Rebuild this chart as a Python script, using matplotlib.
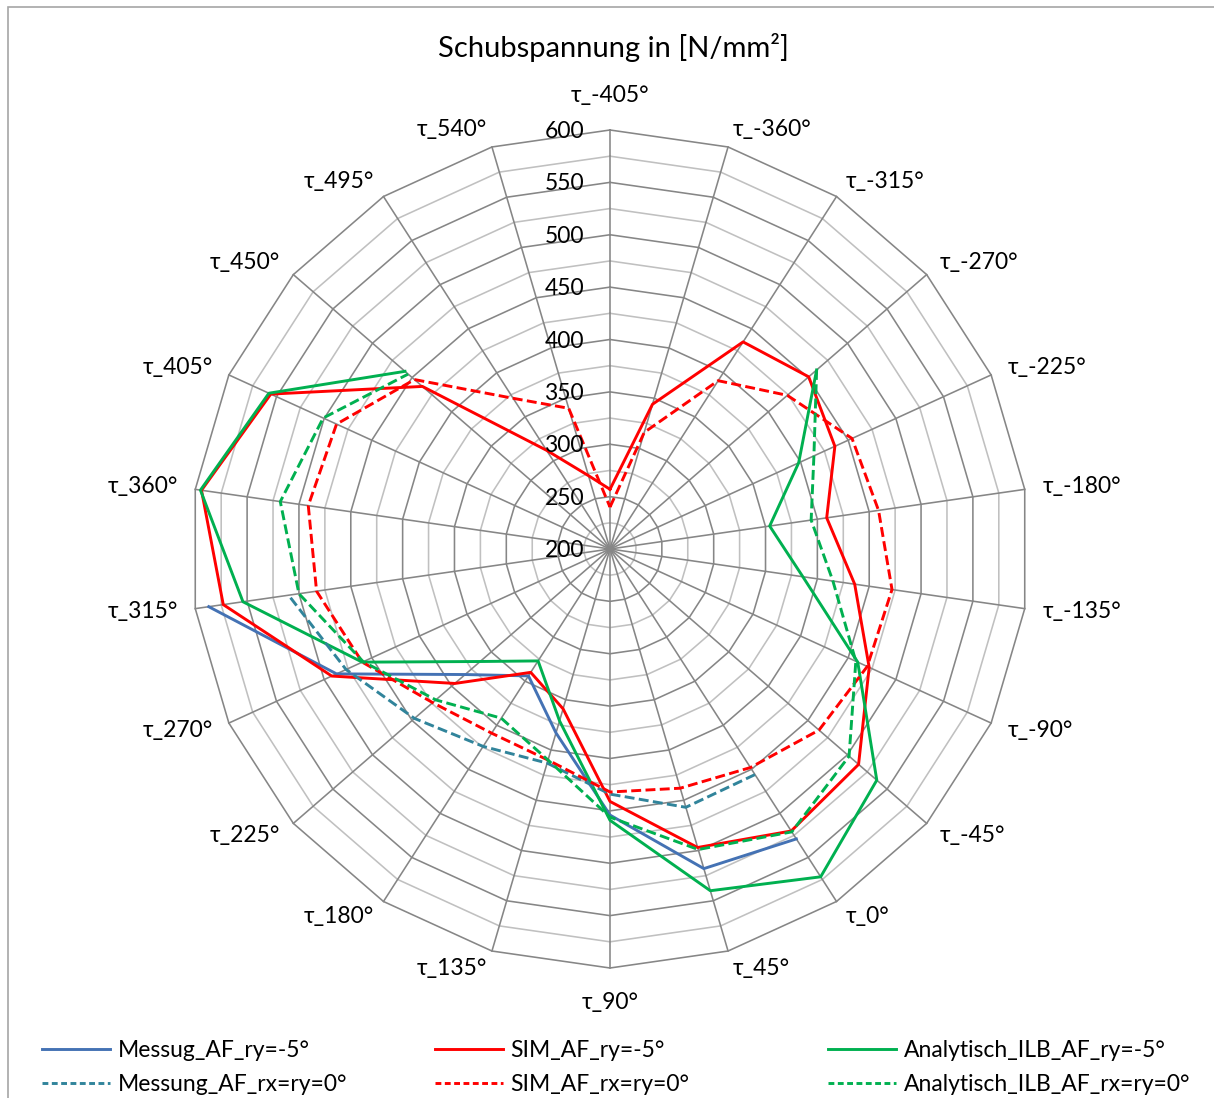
import numpy as np
import matplotlib
matplotlib.use("Agg")
import matplotlib.pyplot as plt
import matplotlib.transforms as mtransforms
from matplotlib.lines import Line2D

plt.rcParams['font.family'] = ['Lato', 'DejaVu Sans']

nan = np.nan

categories = ["τ_-405°", "τ_-360°", "τ_-315°", "τ_-270°", "τ_-225°", "τ_-180°",
              "τ_-135°", "τ_-90°", "τ_-45°", "τ_0°", "τ_45°", "τ_90°",
              "τ_135°", "τ_180°", "τ_225°", "τ_270°", "τ_315°", "τ_360°",
              "τ_405°", "τ_450°", "τ_495°", "τ_540°"]

messung_ry5 = [nan] * 9 + [529, 518, 454, 383, 344, 383, 487, 587] + [nan] * 5
messung_0 = [nan] * 9 + [456, 457, 434, 413, 424, 447, 477, 510] + [nan] * 5
sim_ry5 = [257, 344, 435, 451, 436, 409, 436, 472, 514, 520, 497, 441,
           359, 340, 396, 492, 573, 594, 556, 437, 312, 273]
sim_0 = [240, 316, 391, 424, 454, 459, 472, 470, 464, 448, 438, 432,
         410, 409, 424, 460, 483, 491, 487, 447, 371, 340]
ilb_ry5 = [nan] * 3 + [461, 398, 354, 386, 460, 537, 572, 540, 459, 371,
                       327, 364, 460, 554, 595, 558, 459] + [nan] * 2
ilb_0 = [nan] * 3 + [461, 414, 394, 415, 458, 502, 521, 499, 456, 410,
                     392, 420, 459, 500, 518, 501, 455] + [nan] * 2

series_labels = ["Messug_AF_ry=-5°", "SIM_AF_ry=-5°", "Analytisch_ILB_AF_ry=-5°",
                 "Messung_AF_rx=ry=0°", "SIM_AF_rx=ry=0°", "Analytisch_ILB_AF_rx=ry=0°"]

r_min, r_max = 200, 600
ring_values = np.arange(225, 601, 25)
label_values = np.arange(200, 601, 50)

W, H = 1214, 1098
fig = plt.figure(figsize=(W / 100, H / 100), dpi=100)

# chart frame line (left and top edges)
fig.add_artist(plt.Rectangle((8 / W, -0.1), 2.0, 1.1 - 7 / H, transform=fig.transFigure,
                             fill=False, edgecolor='#a6a6a6', linewidth=1.2))

cx, cy, R = 610, 549, 419
ax = fig.add_axes([(cx - R) / W, (H - cy - R) / H, 2 * R / W, 2 * R / H], projection='polar')
ax.set_theta_zero_location('N')
ax.set_theta_direction(-1)
ax.set_ylim(r_min, r_max)
ax.set_xticks([])
ax.set_yticks([])
ax.grid(False)
ax.spines['polar'].set_visible(False)
ax.patch.set_visible(False)

n = len(categories)
theta = np.arange(n) * 2 * np.pi / n
theta_closed = np.append(theta, 2 * np.pi)

# polygon rings and spokes
for v in ring_values:
    major = (v % 50 == 0)
    ax.plot(theta_closed, np.full(n + 1, v), color='#868686' if major else '#c0c0c0',
            linewidth=1.15, zorder=1, clip_on=False)
for t in theta:
    ax.plot([t, t], [r_min, r_max], color='#868686', linewidth=1.15, zorder=1, clip_on=False)


def closed(vals):
    vals = list(vals)
    return np.array(vals + [vals[0]], dtype=float)


dash = (3.4, 1.5)
lw = 2.1
blue, teal, red, green = '#4472b4', '#31849b', '#ff0000', '#00b050'
ax.plot(theta_closed, closed(messung_ry5), color=blue, lw=lw, zorder=3, clip_on=False)
ax.plot(theta_closed, closed(sim_ry5), color=red, lw=lw, zorder=3, clip_on=False)
ax.plot(theta_closed, closed(ilb_ry5), color=green, lw=lw, zorder=3, clip_on=False)
ax.plot(theta_closed, closed(messung_0), color=teal, lw=lw, dashes=dash, zorder=3, clip_on=False)
ax.plot(theta_closed, closed(sim_0), color=red, lw=lw, dashes=dash, zorder=3, clip_on=False)
ax.plot(theta_closed, closed(ilb_0), color=green, lw=lw, dashes=dash, zorder=3, clip_on=False)

fs = 16.5
# radial value labels
lab_tr = mtransforms.offset_copy(ax.transData, fig=fig, x=-26, y=-1.5, units='dots')
for v in label_values:
    ax.text(0, v, str(v), transform=lab_tr, ha='right', va='center', fontsize=fs,
            color='#000000', zorder=4)

# category labels around the web
for t, lab in zip(theta, categories):
    s = np.sin(t)
    if abs(s) < 1e-6:
        ax.text(t, 633, lab, ha='center', va='center', fontsize=fs)
    else:
        ax.text(t, 617, lab, ha='left' if s > 0 else 'right', va='center', fontsize=fs)

fig.text(613 / W, 1 - 47 / H, "Schubspannung in [N/mm²]", ha='center', va='center', fontsize=21)

# legend: one column per data source
handles = [Line2D([], [], color=blue, lw=lw), Line2D([], [], color=teal, lw=lw, dashes=(2, 1.2)),
           Line2D([], [], color=red, lw=lw), Line2D([], [], color=red, lw=lw, dashes=(2, 1.2)),
           Line2D([], [], color=green, lw=lw), Line2D([], [], color=green, lw=lw, dashes=(2, 1.2))]
labels = [series_labels[0], series_labels[3], series_labels[1], series_labels[4],
          series_labels[2], series_labels[5]]
for i, x0 in enumerate([42, 435, 828]):
    fig.legend(handles[2 * i:2 * i + 2], labels[2 * i:2 * i + 2], loc='upper left',
               bbox_to_anchor=(x0 / W, 1 - 1040 / H), frameon=False, borderpad=0,
               borderaxespad=0, handlelength=2.95, handletextpad=0.35,
               labelspacing=0.56, fontsize=fs)

fig.savefig('out.png', dpi=100)
